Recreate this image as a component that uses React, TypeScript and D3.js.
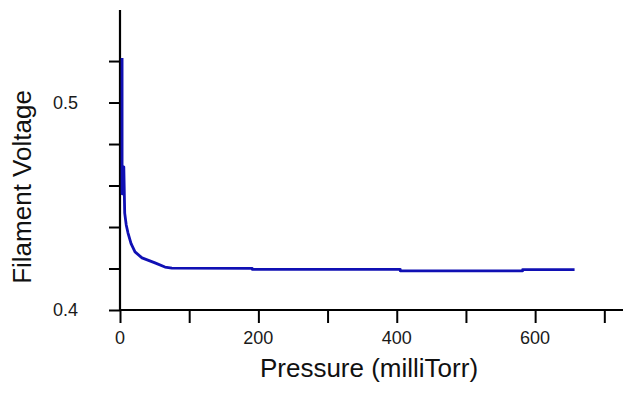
import React, { useRef, useEffect } from 'react';
import * as d3 from 'd3';

// Pressure (milliTorr) vs filament voltage
const pressure = [3, 3, 3, 5.5, 6.8, 9, 11.6, 16, 21.7, 31.8, 50.6, 65, 75, 191, 191, 405, 405, 582, 582, 657];
const voltage = [0.5215, 0.49, 0.456, 0.469, 0.4467, 0.441, 0.4371, 0.432, 0.428, 0.4251, 0.4227, 0.4207, 0.4202, 0.4201, 0.4196, 0.4196, 0.4189, 0.4189, 0.4195, 0.4195];

const xTicks = [0, 100, 200, 300, 400, 500, 600, 700];
const xLabels = [0, 200, 400, 600];
const yTicks = [0.4, 0.42, 0.44, 0.46, 0.48, 0.5, 0.52];
const yLabels = [0.4, 0.5];

const W = 623;
const H = 394;

const App = () => {
  const ref = useRef<SVGSVGElement>(null);

  useEffect(() => {
    const svg = d3.select(ref.current);
    svg.selectAll('*').remove();

    const x = d3.scaleLinear().domain([0, 727]).range([120, 623]);
    const y = d3.scaleLinear().domain([0.4, 0.5446]).range([310, 10]);
    const font = '"Liberation Sans", Arial, sans-serif';

    // y axis
    const ya = svg.append('g')
      .attr('transform', `translate(${x(0)},0)`)
      .call(d3.axisLeft(y).tickValues(yTicks).tickSize(11).tickFormat(() => ''));
    ya.select('.domain').remove();
    ya.selectAll('line').attr('stroke', '#000').attr('stroke-width', 2);

    svg.append('line')
      .attr('x1', x(0)).attr('x2', x(0))
      .attr('y1', y(0.5446)).attr('y2', y(0.4) + 1)
      .attr('stroke', '#000').attr('stroke-width', 2.2);

    svg.selectAll('.ylab')
      .data(yLabels)
      .enter().append('text')
      .attr('x', 78)
      .attr('y', d => y(d) + 6)
      .attr('text-anchor', 'end')
      .attr('font-family', font)
      .attr('font-size', 18)
      .attr('fill', '#1a1a1a')
      .text(d => d3.format('.1f')(d));

    // x axis
    const xa = svg.append('g')
      .attr('transform', `translate(0,${y(0.4)})`)
      .call(d3.axisBottom(x).tickValues(xTicks).tickSize(13).tickFormat(() => ''));
    xa.select('.domain').remove();
    xa.selectAll('line').attr('stroke', '#000').attr('stroke-width', 2);

    svg.append('line')
      .attr('x1', x(0) - 1).attr('x2', 623)
      .attr('y1', y(0.4)).attr('y2', y(0.4))
      .attr('stroke', '#000').attr('stroke-width', 2.2);

    svg.selectAll('.xlab')
      .data(xLabels)
      .enter().append('text')
      .attr('x', d => x(d))
      .attr('y', 344)
      .attr('text-anchor', 'middle')
      .attr('font-family', font)
      .attr('font-size', 18)
      .attr('fill', '#1a1a1a')
      .text(d => d);

    // titles
    svg.append('text')
      .attr('x', 369)
      .attr('y', 377)
      .attr('text-anchor', 'middle')
      .attr('font-family', font)
      .attr('font-size', 26)
      .attr('fill', '#111')
      .text('Pressure (milliTorr)');

    svg.append('text')
      .attr('transform', `translate(31,187) rotate(-90)`)
      .attr('text-anchor', 'middle')
      .attr('font-family', font)
      .attr('font-size', 26)
      .attr('fill', '#111')
      .text('Filament Voltage');

    // data line
    const pts = pressure.map((p, i) => [p, voltage[i]] as [number, number]);
    const line = d3.line<[number, number]>()
      .x(d => x(d[0]))
      .y(d => y(d[1]));

    svg.append('path')
      .attr('d', line(pts))
      .attr('fill', 'none')
      .attr('stroke', '#1010b4')
      .attr('stroke-width', 2.8)
      .attr('stroke-linejoin', 'round');
  }, []);

  return (
    <svg
      ref={ref}
      width={W}
      height={H}
      style={{ position: 'absolute', left: 0, top: 0, background: '#fff' }}
    />
  );
};

export default App;
